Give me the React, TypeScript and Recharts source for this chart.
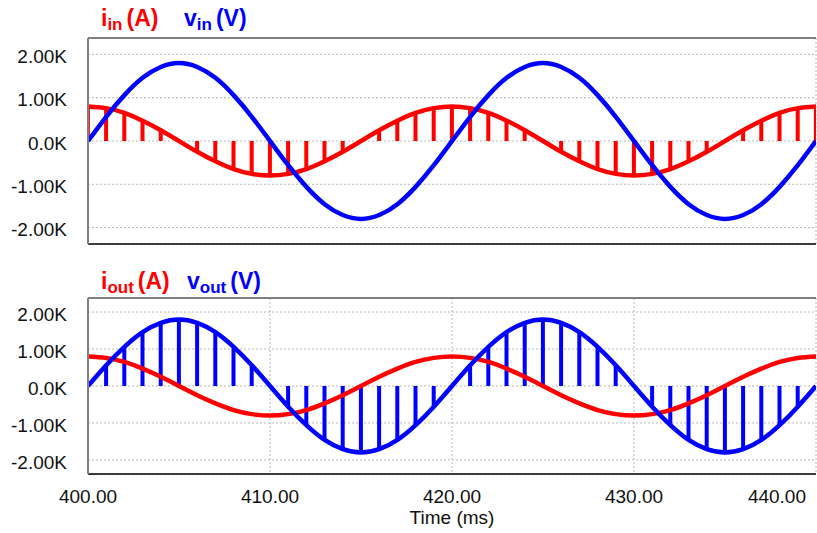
import { Bar, ComposedChart, Line, XAxis, YAxis, CartesianGrid, ReferenceLine } from "recharts";

// time axis, one sample every ms
const timeMs = [
  400, 401, 402, 403, 404, 405, 406, 407, 408, 409, 410, 411, 412, 413, 414, 415, 416, 417, 418, 419, 420,
  421, 422, 423, 424, 425, 426, 427, 428, 429, 430, 431, 432, 433, 434, 435, 436, 437, 438, 439, 440,
];

// values in kA / kV
const iIn = [
  0.8, 0.76, 0.65, 0.47, 0.25, 0, -0.25, -0.47, -0.65, -0.76, -0.8, -0.76, -0.65, -0.47, -0.25, 0, 0.25, 0.47, 0.65, 0.76, 0.8,
  0.76, 0.65, 0.47, 0.25, 0, -0.25, -0.47, -0.65, -0.76, -0.8, -0.76, -0.65, -0.47, -0.25, 0, 0.25, 0.47, 0.65, 0.76, 0.8,
];
const vIn = [
  0, 0.56, 1.06, 1.46, 1.71, 1.8, 1.71, 1.46, 1.06, 0.56, 0, -0.56, -1.06, -1.46, -1.71, -1.8, -1.71, -1.46, -1.06, -0.56, 0,
  0.56, 1.06, 1.46, 1.71, 1.8, 1.71, 1.46, 1.06, 0.56, 0, -0.56, -1.06, -1.46, -1.71, -1.8, -1.71, -1.46, -1.06, -0.56, 0,
];
const iOut = [
  0.8, 0.76, 0.65, 0.47, 0.25, 0, -0.25, -0.47, -0.65, -0.76, -0.8, -0.76, -0.65, -0.47, -0.25, 0, 0.25, 0.47, 0.65, 0.76, 0.8,
  0.76, 0.65, 0.47, 0.25, 0, -0.25, -0.47, -0.65, -0.76, -0.8, -0.76, -0.65, -0.47, -0.25, 0, 0.25, 0.47, 0.65, 0.76, 0.8,
];
const vOut = [
  0, 0.56, 1.06, 1.46, 1.71, 1.8, 1.71, 1.46, 1.06, 0.56, 0, -0.56, -1.06, -1.46, -1.71, -1.8, -1.71, -1.46, -1.06, -0.56, 0,
  0.56, 1.06, 1.46, 1.71, 1.8, 1.71, 1.46, 1.06, 0.56, 0, -0.56, -1.06, -1.46, -1.71, -1.8, -1.71, -1.46, -1.06, -0.56, 0,
];

const xTicks = [400, 410, 420, 430, 440];
const yTicks = [-2, -1, 0, 1, 2];

const data = timeMs.map((t, i) => ({ t, iIn: iIn[i], vIn: vIn[i], iOut: iOut[i], vOut: vOut[i] }));

const RED = "#ff0000";
const BLUE = "#0000ff";
const FONT = "'Liberation Sans', Arial, sans-serif";
const Y_MIN = -2.38;
const Y_MAX = 2.38;

const fmtY = (v: number) => (v === 0 ? "0.0K" : `${v.toFixed(2)}K`);

const XTick = ({ x, y, payload }: any) => {
  const last = payload.value === xTicks[xTicks.length - 1];
  return (
    <text
      x={last ? x + 1 : x}
      y={y}
      dy="0.71em"
      textAnchor={last ? "end" : "middle"}
      fontSize={19}
      fontFamily={FONT}
      fill="#111"
    >
      {payload.value.toFixed(2)}
    </text>
  );
};

function Panel({ iKey, vKey, chopped, height, xAxisHeight }: any) {
  const chopColor = chopped === iKey ? RED : BLUE;
  return (
    <ComposedChart
      width={817}
      height={height}
      data={data}
      margin={{ top: 38, right: 1, bottom: 0, left: 0 }}
    >
      <CartesianGrid stroke="#b8b8b8" strokeDasharray="2 2" />
      <XAxis
        dataKey="t"
        type="number"
        domain={[400, 440]}
        ticks={xTicks}
        allowDataOverflow
        height={xAxisHeight}
        tickLine={false}
        tickSize={6}
        tickMargin={10}
        tick={xAxisHeight > 10 ? <XTick /> : false}
        axisLine={{ stroke: "#000", strokeWidth: 1.5 }}
        label={
          xAxisHeight > 10
            ? { value: "Time (ms)", position: "insideBottom", offset: 9, fontSize: 19, fontFamily: FONT, fill: "#111" }
            : undefined
        }
      />
      <YAxis
        type="number"
        domain={[Y_MIN, Y_MAX]}
        ticks={yTicks}
        allowDataOverflow
        width={88}
        tickLine={false}
        tickSize={6}
        tickMargin={15}
        tickFormatter={fmtY}
        tick={{ fontSize: 19, fontFamily: FONT, fill: "#111", dy: 2 }}
        axisLine={{ stroke: "#808080", strokeWidth: 2 }}
      />
      <ReferenceLine y={Y_MAX} stroke="#808080" strokeWidth={2} />
      <Bar dataKey={chopped} fill={chopColor} barSize={4} isAnimationActive={false} />
      <Line
        dataKey={iKey}
        type="natural"
        stroke={RED}
        strokeWidth={4.5}
        dot={false}
        activeDot={false}
        isAnimationActive={false}
      />
      <Line
        dataKey={vKey}
        type="natural"
        stroke={BLUE}
        strokeWidth={4.5}
        dot={false}
        activeDot={false}
        isAnimationActive={false}
      />
    </ComposedChart>
  );
}

function Title({ y, sub, color, x, name, unit }: any) {
  return (
    <text x={x} y={y} fill={color} fontFamily={FONT} fontWeight="bold" fontSize={23}>
      {name}
      <tspan fontSize={17} dy={4}>
        {sub}
      </tspan>
      <tspan dy={-4} dx={4}>
        {unit}
      </tspan>
    </text>
  );
}

export default function App() {
  return (
    <div style={{ position: "absolute", left: 0, top: 0, width: 817, height: 533, background: "#fff", fontFamily: FONT }}>
      <div style={{ position: "absolute", left: 0, top: 0 }}>
        <Panel iKey="iIn" vKey="vIn" chopped="iIn" height={250} xAxisHeight={6} />
      </div>
      <div style={{ position: "absolute", left: 0, top: 260 }}>
        <Panel iKey="iOut" vKey="vOut" chopped="vOut" height={273} xAxisHeight={59} />
      </div>
      <svg width={817} height={533} style={{ position: "absolute", left: 0, top: 0, pointerEvents: "none" }}>
        <Title x={101} y={26} name="i" sub="in" unit="(A)" color={RED} />
        <Title x={184} y={26} name="v" sub="in" unit="(V)" color={BLUE} />
        <Title x={101} y={289} name="i" sub="out" unit="(A)" color={RED} />
        <Title x={187} y={289} name="v" sub="out" unit="(V)" color={BLUE} />
      </svg>
    </div>
  );
}
